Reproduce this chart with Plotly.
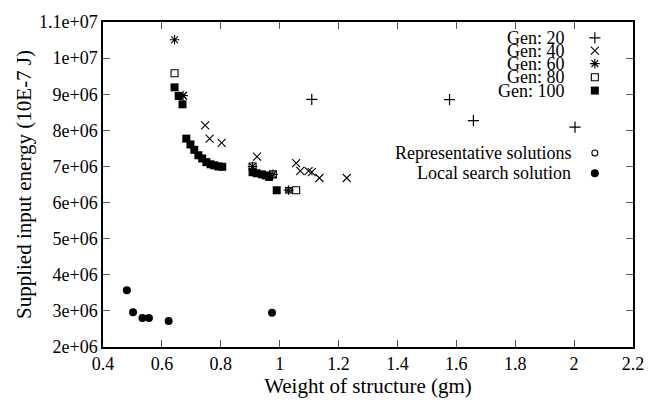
import plotly.graph_objects as go

# Data
gen20_x = [1.109, 1.577, 1.658, 2.003]
gen20_y = [8.86e6, 8.85e6, 8.27e6, 8.09e6]

gen40_x = [0.672, 0.747, 0.762, 0.803, 0.923, 1.056, 1.070, 1.098, 1.109, 1.135, 1.228]
gen40_y = [8.96e6, 8.14e6, 7.77e6, 7.65e6, 7.27e6, 7.09e6, 6.88e6, 6.87e6, 6.84e6, 6.68e6, 6.68e6]

gen60_x = [0.643, 0.672, 0.908, 0.977, 1.030]
gen60_y = [10.51e6, 8.96e6, 7.00e6, 6.78e6, 6.34e6]

gen80_x = [0.643, 0.908, 0.977, 1.056]
gen80_y = [9.58e6, 7.00e6, 6.78e6, 6.34e6]

gen100_x = [0.643, 0.657, 0.670, 0.683, 0.697, 0.710, 0.724, 0.737, 0.751, 0.765, 0.778,
            0.792, 0.805, 0.908, 0.922, 0.940, 0.953, 0.964, 0.990]
gen100_y = [9.19e6, 8.95e6, 8.72e6, 7.77e6, 7.61e6, 7.46e6, 7.31e6, 7.22e6, 7.12e6, 7.06e6,
            7.03e6, 7.00e6, 6.99e6, 6.84e6, 6.81e6, 6.78e6, 6.75e6, 6.71e6, 6.34e6]

rep_x = [1.030]
rep_y = [6.34e6]

local_x = [0.481, 0.502, 0.534, 0.556, 0.623, 0.974]
local_y = [3.57e6, 2.96e6, 2.80e6, 2.80e6, 2.72e6, 2.95e6]

x_ticks = [0.4, 0.6, 0.8, 1.0, 1.2, 1.4, 1.6, 1.8, 2.0, 2.2]
x_ticktext = ["0.4", "0.6", "0.8", "1", "1.2", "1.4", "1.6", "1.8", "2", "2.2"]
y_ticks = [2e6, 3e6, 4e6, 5e6, 6e6, 7e6, 8e6, 9e6, 1e7, 1.1e7]
y_ticktext = ["2e+06", "3e+06", "4e+06", "5e+06", "6e+06", "7e+06", "8e+06", "9e+06", "1e+07", "1.1e+07"]

legend_labels = ["Gen: 20", "Gen: 40", "Gen: 60", "Gen: 80", "Gen: 100",
                 "Representative solutions", "Local search solution"]
legend_pos_y = [0.951, 0.912, 0.872, 0.830, 0.789, 0.597, 0.535]
legend_text_x = [0.876, 0.876, 0.876, 0.876, 0.876, 0.886, 0.886]

FONT = "Liberation Serif"

styles = [
    dict(symbol="cross-thin-open", size=8, color="black", line=dict(width=1.2, color="black")),
    dict(symbol="x-thin-open", size=8, color="black", line=dict(width=1.1, color="black")),
    dict(symbol="asterisk-open", size=8, color="black", line=dict(width=1.1, color="black")),
    dict(symbol="square-open", size=7, color="black", line=dict(width=1.1, color="black")),
    dict(symbol="square", size=8, color="black", line=dict(width=0)),
    dict(symbol="circle-open", size=6, color="black", line=dict(width=1.1, color="black")),
    dict(symbol="circle", size=8, color="black", line=dict(width=0)),
]

series = [(gen20_x, gen20_y), (gen40_x, gen40_y), (gen60_x, gen60_y), (gen80_x, gen80_y),
          (gen100_x, gen100_y), (rep_x, rep_y), (local_x, local_y)]

fig = go.Figure()
order = [4, 3, 0, 1, 2, 5, 6]
for i in order:
    xs, ys = series[i]
    fig.add_trace(go.Scatter(x=xs, y=ys, mode="markers", marker=styles[i],
                             name=legend_labels[i], showlegend=False, cliponaxis=False))

# legend keys on overlay axes (gnuplot-style: text right-aligned, key to the right)
for i, lab in enumerate(legend_labels):
    fig.add_trace(go.Scatter(x=[0.928], y=[legend_pos_y[i]], mode="markers", marker=styles[i],
                             xaxis="x2", yaxis="y2", showlegend=False, hoverinfo="skip"))
    fig.add_annotation(x=legend_text_x[i], y=legend_pos_y[i], xref="x2", yref="y2", text=lab,
                       showarrow=False, xanchor="right", yanchor="middle",
                       font=dict(family=FONT, size=18, color="black"))

axis_common = dict(showgrid=False, zeroline=False, showline=True, linecolor="black", linewidth=1.5,
                   mirror="ticks", ticks="inside", ticklen=7, tickcolor="#555", tickwidth=1.2,
                   tickfont=dict(family=FONT, size=18, color="black"))

fig.update_layout(
    width=662, height=401,
    margin=dict(l=103, r=29, t=15, b=47),
    paper_bgcolor="white", plot_bgcolor="white",
    font=dict(family=FONT, color="black"),
    xaxis=dict(range=[0.4, 2.2], tickvals=x_ticks, ticktext=x_ticktext,
               title=dict(text="Weight of structure (gm)", font=dict(family=FONT, size=21, color="black"), standoff=0),
               **axis_common),
    yaxis=dict(range=[2e6, 1.1e7], tickvals=y_ticks, ticktext=y_ticktext,
               title=dict(text="Supplied input energy (10E-7 J)", font=dict(family=FONT, size=21, color="black"), standoff=2),
               **axis_common),
    xaxis2=dict(range=[0, 1], overlaying="x", visible=False),
    yaxis2=dict(range=[0, 1], overlaying="y", visible=False),
    showlegend=False,
)

fig.write_html("out.html")
